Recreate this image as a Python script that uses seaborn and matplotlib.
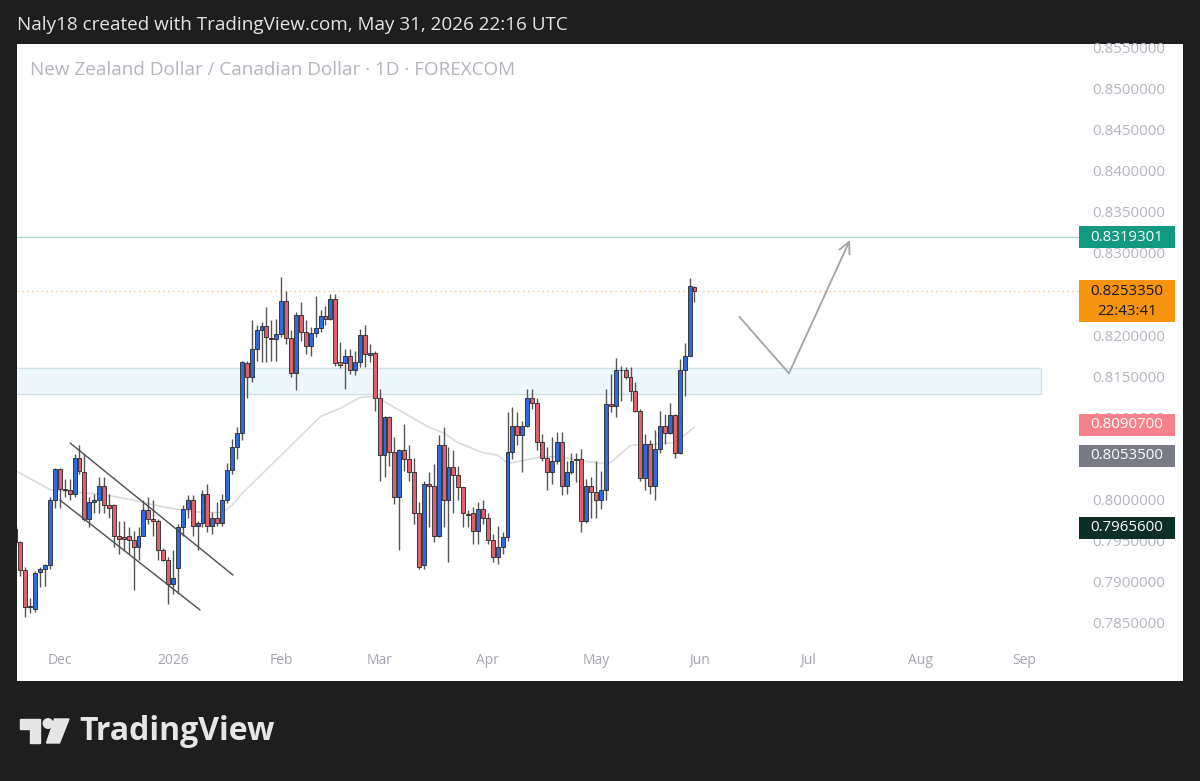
import numpy as np
import pandas as pd
import matplotlib
matplotlib.use('Agg')
import matplotlib.pyplot as plt
import matplotlib.transforms as mtransforms
from matplotlib.patches import Rectangle, Polygon, Ellipse
import seaborn as sns

# --- data (NZD/CAD daily, FOREXCOM) ---
first_day = '2025-11-18'
axis_last_day = '2026-09-30'

opens = [
    0.7964, 0.7948, 0.7914, 0.7869, 0.7867, 0.7912, 0.7916, 0.7920, 0.7999, 0.8037,
    0.8013, 0.8012, 0.8007, 0.8051, 0.8034, 0.7976, 0.7997, 0.7999, 0.8016, 0.7993,
    0.7993, 0.7956, 0.7954, 0.7955, 0.7951, 0.7942, 0.7956, 0.7987, 0.7976, 0.7974,
    0.7939, 0.7926, 0.7897, 0.7917, 0.7966, 0.7989, 0.7999, 0.7968, 0.7972, 0.8007,
    0.7968, 0.7978, 0.7971, 0.7999, 0.8036, 0.8064, 0.8081, 0.8166, 0.8149, 0.8183,
    0.8206, 0.8211, 0.8196, 0.8195, 0.8201, 0.8242, 0.8196, 0.8154, 0.8224, 0.8204,
    0.8187, 0.8202, 0.8209, 0.8223, 0.8219, 0.8244, 0.8167, 0.8166, 0.8174, 0.8157,
    0.8167, 0.8200, 0.8176, 0.8178, 0.8123, 0.8054, 0.8100, 0.8058, 0.8003, 0.8060,
    0.8049, 0.8034, 0.7983, 0.7920, 0.8019, 0.8017, 0.7956, 0.8066, 0.7999, 0.8039,
    0.8030, 0.8015, 0.7982, 0.7983, 0.7962, 0.7989, 0.7978, 0.7951, 0.7930, 0.7942,
    0.7954, 0.8058, 0.8090, 0.8078, 0.8090, 0.8123, 0.8118, 0.8070, 0.8051, 0.8034,
    0.8047, 0.8070, 0.8017, 0.8033, 0.8049, 0.8049, 0.7974, 0.8017, 0.8009, 0.7999,
    0.8011, 0.8116, 0.8114, 0.8158, 0.8157, 0.8149, 0.8132, 0.8108, 0.8026, 0.8068,
    0.8017, 0.8062, 0.8089, 0.8081, 0.8103, 0.8057, 0.8158, 0.8175, 0.8259,
]
highs = [
    0.7968, 0.7950, 0.7918, 0.7880, 0.7913, 0.7918, 0.7921, 0.8003, 0.8038, 0.8038,
    0.8025, 0.8025, 0.8055, 0.8066, 0.8055, 0.8003, 0.8007, 0.8027, 0.8027, 0.8007,
    0.7994, 0.7974, 0.7974, 0.7966, 0.7962, 0.7966, 0.7999, 0.8003, 0.7999, 0.7976,
    0.7941, 0.7930, 0.7938, 0.7970, 0.7993, 0.8005, 0.8005, 0.7974, 0.8011, 0.8019,
    0.7985, 0.7997, 0.8007, 0.8045, 0.8074, 0.8088, 0.8169, 0.8169, 0.8218, 0.8212,
    0.8216, 0.8234, 0.8218, 0.8220, 0.8271, 0.8254, 0.8206, 0.8228, 0.8240, 0.8218,
    0.8210, 0.8248, 0.8230, 0.8236, 0.8250, 0.8250, 0.8191, 0.8183, 0.8183, 0.8181,
    0.8208, 0.8212, 0.8189, 0.8181, 0.8135, 0.8102, 0.8102, 0.8076, 0.8062, 0.8092,
    0.8066, 0.8051, 0.7997, 0.8023, 0.8033, 0.8043, 0.8078, 0.8088, 0.8064, 0.8060,
    0.8041, 0.8015, 0.7987, 0.7991, 0.7997, 0.7999, 0.7983, 0.7958, 0.7968, 0.7960,
    0.8106, 0.8112, 0.8106, 0.8096, 0.8135, 0.8135, 0.8124, 0.8080, 0.8064, 0.8076,
    0.8082, 0.8082, 0.8047, 0.8057, 0.8057, 0.8062, 0.8025, 0.8027, 0.8047, 0.8035,
    0.8135, 0.8153, 0.8172, 0.8163, 0.8161, 0.8161, 0.8143, 0.8110, 0.8080, 0.8072,
    0.8084, 0.8108, 0.8104, 0.8118, 0.8104, 0.8171, 0.8190, 0.8270, 0.8260,
]
lows = [
    0.7945, 0.7907, 0.7857, 0.7862, 0.7863, 0.7893, 0.7895, 0.7916, 0.7990, 0.7990,
    0.8003, 0.7999, 0.8003, 0.8031, 0.7974, 0.7966, 0.7983, 0.7983, 0.7983, 0.7978,
    0.7942, 0.7934, 0.7938, 0.7934, 0.7890, 0.7926, 0.7955, 0.7970, 0.7956, 0.7926,
    0.7925, 0.7873, 0.7885, 0.7885, 0.7956, 0.7978, 0.7956, 0.7938, 0.7966, 0.7960,
    0.7958, 0.7968, 0.7968, 0.7996, 0.8031, 0.8049, 0.8072, 0.8123, 0.8143, 0.8169,
    0.8167, 0.8167, 0.8169, 0.8169, 0.8198, 0.8189, 0.8149, 0.8133, 0.8193, 0.8177,
    0.8175, 0.8198, 0.8204, 0.8212, 0.8218, 0.8163, 0.8160, 0.8135, 0.8153, 0.8151,
    0.8161, 0.8161, 0.8167, 0.8108, 0.8023, 0.8027, 0.8041, 0.7995, 0.7938, 0.8035,
    0.8023, 0.7970, 0.7916, 0.7916, 0.7966, 0.7948, 0.7954, 0.7966, 0.7924, 0.7983,
    0.7999, 0.7966, 0.7966, 0.7946, 0.7946, 0.7970, 0.7946, 0.7924, 0.7922, 0.7934,
    0.7950, 0.8049, 0.8066, 0.8033, 0.8088, 0.8110, 0.8060, 0.8047, 0.8011, 0.8019,
    0.8043, 0.8005, 0.8007, 0.8031, 0.8021, 0.7960, 0.7972, 0.7978, 0.7978, 0.7989,
    0.7999, 0.8106, 0.8100, 0.8120, 0.8147, 0.8120, 0.8106, 0.8023, 0.8011, 0.8007,
    0.7999, 0.8057, 0.8068, 0.8080, 0.8051, 0.8055, 0.8126, 0.8174, 0.8240,
]
closes = [
    0.7948, 0.7914, 0.7869, 0.7870, 0.7911, 0.7916, 0.7920, 0.7999, 0.8037, 0.8013,
    0.8012, 0.8007, 0.8051, 0.8035, 0.7976, 0.7997, 0.7999, 0.8017, 0.7993, 0.7990,
    0.7956, 0.7952, 0.7952, 0.7951, 0.7942, 0.7956, 0.7987, 0.7976, 0.7974, 0.7938,
    0.7926, 0.7897, 0.7905, 0.7966, 0.7989, 0.7999, 0.7968, 0.7972, 0.8007, 0.7968,
    0.7978, 0.7972, 0.7999, 0.8036, 0.8064, 0.8081, 0.8167, 0.8149, 0.8183, 0.8206,
    0.8211, 0.8198, 0.8195, 0.8201, 0.8242, 0.8196, 0.8154, 0.8224, 0.8204, 0.8187,
    0.8202, 0.8209, 0.8223, 0.8219, 0.8244, 0.8166, 0.8164, 0.8174, 0.8157, 0.8167,
    0.8200, 0.8177, 0.8178, 0.8123, 0.8054, 0.8100, 0.8058, 0.8003, 0.8060, 0.8049,
    0.8034, 0.7983, 0.7918, 0.8019, 0.8017, 0.7956, 0.8066, 0.7999, 0.8039, 0.8030,
    0.8015, 0.7983, 0.7981, 0.7962, 0.7989, 0.7978, 0.7951, 0.7930, 0.7942, 0.7954,
    0.8058, 0.8090, 0.8078, 0.8090, 0.8123, 0.8118, 0.8070, 0.8051, 0.8034, 0.8047,
    0.8070, 0.8017, 0.8033, 0.8047, 0.8048, 0.7974, 0.8017, 0.8009, 0.7999, 0.8011,
    0.8116, 0.8114, 0.8158, 0.8157, 0.8149, 0.8132, 0.8108, 0.8026, 0.8068, 0.8017,
    0.8062, 0.8089, 0.8081, 0.8103, 0.8057, 0.8158, 0.8175, 0.8260, 0.82534,
]

# moving average line (bar index, value)
ma_bar = [0, 4, 7, 12, 18, 24, 30, 36, 42, 44, 46, 62, 66, 70, 73, 77, 84, 87, 90,
          95, 98, 100, 102, 107, 110, 114, 119, 121, 125, 134, 138]
ma_val = [0.8035, 0.8022, 0.8012, 0.8009, 0.8006, 0.7999, 0.7991, 0.7985, 0.7984,
          0.7993, 0.8007, 0.8101, 0.8111, 0.8124, 0.8126, 0.8112, 0.8088, 0.8081,
          0.8069, 0.8057, 0.8054, 0.8044, 0.8046, 0.8052, 0.8052, 0.8048, 0.8044,
          0.8045, 0.8066, 0.8069, 0.8088]

tick_months = ['2025-12', '2026-01', '2026-02', '2026-03', '2026-04', '2026-05',
               '2026-06', '2026-07', '2026-08', '2026-09']
tick_names = ['Dec', '2026', 'Feb', 'Mar', 'Apr', 'May', 'Jun', 'Jul', 'Aug', 'Sep']
price_ticks = [0.785, 0.790, 0.795, 0.800, 0.805, 0.810, 0.815, 0.820, 0.825,
               0.830, 0.835, 0.840, 0.845, 0.850, 0.855]
covered_ticks = [0.805, 0.825]   # hidden behind the coloured price labels

target_price = 0.8319301
last_price = 0.825335
countdown = '22:43:41'
side_labels = [(0.80907, '#f7818a', 'white'),
               (0.80535, '#787b86', 'white'),
               (0.79656, '#0c2f28', 'white')]

zone_low, zone_high, zone_end_bar = 0.81280, 0.81596, 208.4
channel_top = ([11.1, 44.2], [0.80687, 0.79081])
channel_bottom = ([9.0, 37.5], [0.79994, 0.78656])
arrow_bars = [147.1, 157.2, 169.6]
arrow_prices = [0.82224, 0.81535, 0.83157]

header = 'Naly18 created with TradingView.com, May 31, 2026 22:16 UTC'
title = 'New Zealand Dollar / Canadian Dollar \u00b7 1D \u00b7 FOREXCOM'

# --- figure ---
sns.set_style('white')
plt.rcParams['font.family'] = ['Open Sans', 'DejaVu Sans']

W, H = 1200, 781
fig = plt.figure(figsize=(W / 100, H / 100), dpi=100, facecolor='#1e1e1e')


def box(x0, y0, x1, y1):
    # pixel box (top-left origin) -> figure fraction rect
    return [x0 / W, 1 - y1 / H, (x1 - x0) / W, (y1 - y0) / H]


panel = fig.add_axes(box(17, 44, 1183, 681))
panel.set_facecolor('white')
panel.set_xticks([])
panel.set_yticks([])
for s in panel.spines.values():
    s.set_visible(False)

ax = fig.add_axes(box(17, 44, 1079, 645))
ax.set_facecolor('white')
for s in ax.spines.values():
    s.set_visible(False)

n = len(opens)
x = np.arange(n)
o = np.array(opens)
c = np.array(closes)
up = c >= o
body_col = np.where(up, '#2f6bdc', '#e0606b')

# zone, lines, drawings
ax.add_patch(Rectangle((-20, zone_low), zone_end_bar + 20, zone_high - zone_low,
                       facecolor='#eef8fc', edgecolor='#cde0e7', lw=1, zorder=1))
ax.axhline(target_price, color='#a9d8cf', lw=1, zorder=1)
ax.axhline(last_price, color='#f6c27e', lw=1, ls=(0, (1, 2.5)), zorder=1)

sns.lineplot(x=ma_bar, y=ma_val, ax=ax, color='#dadada', lw=1.2, zorder=2)

ax.plot(*channel_top, color='#4a4d55', lw=1, zorder=5)
ax.plot(*channel_bottom, color='#4a4d55', lw=1, zorder=5)

ax.plot(arrow_bars[:2], arrow_prices[:2], color='#a3a3a3', lw=1.3, zorder=5)
ax.annotate('', xy=(arrow_bars[2], arrow_prices[2]),
            xytext=(arrow_bars[1], arrow_prices[1]),
            arrowprops=dict(arrowstyle='->', color='#a3a3a3', lw=1.3,
                            mutation_scale=20, shrinkA=0, shrinkB=0), zorder=5)

# candles
ax.vlines(x, lows, highs, color='#555555', lw=1, zorder=3)
body_h = np.maximum(np.abs(c - o), 0.00004)
ax.bar(x, body_h, bottom=np.minimum(o, c), width=0.8, color=body_col,
       edgecolor='#262626', linewidth=0.6, zorder=4)

# axes ranges: 4.92 px per bar, 8220 px per unit price
ax.set_xlim(0.3, 0.3 + 1062 / 4.92)
ax.set_ylim(0.782299, 0.855414)

# time axis
dates_all = pd.bdate_range(first_day, axis_last_day)
months = np.array(dates_all.strftime('%Y-%m'))
tick_pos = [int(np.argmax(months == m)) for m in tick_months]
ax.set_xticks(tick_pos)
ax.set_xticklabels(tick_names)
ax.tick_params(axis='x', length=0, pad=6, labelsize=10, labelcolor='#a3a6af')

# price axis
shown_ticks = [v for v in price_ticks if v not in covered_ticks]
ax.yaxis.tick_right()
ax.set_yticks(shown_ticks)
ax.set_yticklabels([f'{v:.7f}' for v in shown_ticks])
ax.tick_params(axis='y', length=0, pad=9.5, labelsize=10.8, labelcolor='#b2b5be')
ax.set_xlabel('')
ax.set_ylabel('')
ax.grid(False)

# coloured price labels on the scale
trans = mtransforms.blended_transform_factory(ax.transAxes, ax.transData)
px_y = (0.855414 - 0.782299) / 601
bw = 96 / 1062


def price_box(val, face, txt_col, top_px=11, bottom_px=11):
    ax.add_patch(Rectangle((1.0, val - bottom_px * px_y), bw,
                           (top_px + bottom_px) * px_y, transform=trans,
                           facecolor=face, edgecolor='none', clip_on=False, zorder=10))
    ax.text(1.0 + bw / 2, val, f'{val:.7f}', transform=trans, ha='center',
            va='center', fontsize=10.8, color=txt_col, clip_on=False, zorder=11)


for val, face, tcol in side_labels:
    price_box(val, face, tcol)
price_box(target_price, '#129a80', 'white')
price_box(last_price, '#f7940f', '#131722', top_px=11, bottom_px=31)
ax.text(1.0 + bw / 2, last_price - 20.5 * px_y, countdown, transform=trans,
        ha='center', va='center', fontsize=10.8, color='#131722', clip_on=False, zorder=11)

# texts
fig.text(30 / W, 1 - 70 / H, title, fontsize=13.6, color='#b2b5be',
         va='center', ha='left')
fig.text(17 / W, 1 - 25 / H, header, fontsize=13.6, color='#e4e4e4',
         va='center', ha='left')

# TradingView logo
logo_col = '#e6e6e6'


def fpts(pts):
    return [(px / W, 1 - py / H) for px, py in pts]


fig.add_artist(Polygon(fpts([(20, 719), (40, 719), (40, 743), (30, 743), (30, 729), (20, 729)]),
                       closed=True, transform=fig.transFigure, color=logo_col))
fig.add_artist(Ellipse((48 / W, 1 - 723.5 / H), 9.5 / W, 9.5 / H,
                       transform=fig.transFigure, color=logo_col))
fig.add_artist(Polygon(fpts([(54.5, 719), (69, 719), (59.5, 743), (46.5, 743)]),
                       closed=True, transform=fig.transFigure, color=logo_col))
fig.text(79 / W, 1 - 732 / H, 'TradingView', fontsize=23, fontweight='bold',
         color=logo_col, va='center', ha='left')

fig.savefig('out.png', dpi=100, facecolor=fig.get_facecolor())
